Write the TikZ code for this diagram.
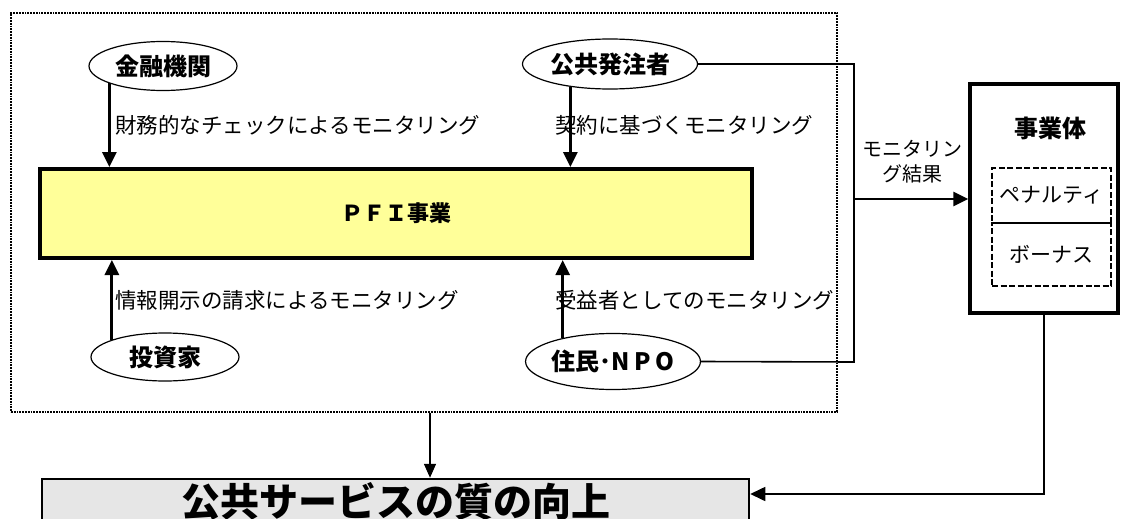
\documentclass[tikz,border=0pt]{standalone}
\usepackage{fontspec}
\newfontfamily\jp{Noto Sans CJK JP}
\usetikzlibrary{shapes.geometric,arrows.meta,calc}
\definecolor{pfiyellow}{HTML}{FFFF99}
\definecolor{botgray}{HTML}{E6E6E6}
\tikzset{
  actor/.style={draw,ellipse,line width=1.2pt,inner sep=0pt,font=\jp\bfseries\fontsize{24}{28}\selectfont},
  lbl/.style={anchor=west,inner sep=0pt,font=\jp\fontsize{21.5}{25}\selectfont},
  arr/.style={line width=2.8pt,-{Triangle[length=15pt,width=14pt]}},
  arrthin/.style={line width=1.5pt,-{Triangle[length=14pt,width=12pt]}},
  conn/.style={line width=1.6pt},
  inbox/.style={draw,dashed,line width=2.4pt,dash pattern=on 6pt off 2.5pt,inner sep=0pt,minimum width=119pt,font=\jp\fontsize{21}{25}\selectfont}
}
\begin{document}
\begin{tikzpicture}[x=1pt,y=-1pt]
\clip (0,0) rectangle (1122,519);
\fill[white] (0,0) rectangle (1122,519);
% outer dotted frame
\node[draw,densely dotted,line width=1.8pt,minimum width=826pt,minimum height=399pt,inner sep=0pt] (outer) at (424,212.5) {};
% PFI box
\node[draw,line width=4pt,fill=pfiyellow,minimum width=712pt,minimum height=89pt,inner sep=0pt,font=\jp\bfseries\fontsize{22}{26}\selectfont] (pfi) at (396,213.5) {ＰＦＩ事業};
% actors
\node[actor,minimum width=148pt,minimum height=49pt] (kin) at (163,66) {金融機関};
\node[actor,minimum width=175pt,minimum height=50pt] (ko) at (610,64) {公共発注者};
\node[actor,minimum width=148pt,minimum height=48pt] (tou) at (165,357) {投資家};
\node[actor,minimum width=173pt,minimum height=56pt] (ju) at (613,361.5) {住民･N\hspace{5pt}P\hspace{5pt}O};
% arrows to/from PFI
\draw[arr] (kin.-162) -- (kin.-162 |- pfi.north);
\draw[arr] (ko.-150) -- (ko.-150 |- pfi.north);
\draw[arr] (tou.162) -- (tou.162 |- pfi.south);
\draw[arr] (ju.155) -- (ju.155 |- pfi.south);
% labels
\node[lbl] (l1) at (115,125) {財務的なチェックによるモニタリング};
\node[lbl] (l2) at (555,125) {契約に基づくモニタリング};
\node[lbl] (l3) at (115,300) {情報開示の請求によるモニタリング};
\node[lbl] (l4) at (555,300) {受益者としてのモニタリング};
% right entity
\node[draw,line width=3.5pt,minimum width=148pt,minimum height=229pt,inner sep=0pt] (jig) at (1044,198.5) {};
\node[font=\jp\bfseries\fontsize{24}{28}\selectfont,inner sep=0pt] (jigt) at (1050,128) {事業体};
\node[inbox,minimum height=55pt] (pen) at (1051.5,195.5) {ペナルティ};
\node[inbox,minimum height=63pt] (bon) at (1051.5,254.5) {ボーナス};
% monitoring result connector
\coordinate (vt) at (854,67);
\coordinate (vb) at (854,362);
\draw[conn] (ko.east) -- (ko.east -| vt) -- (vb) -- (ju.east);
\coordinate (va) at (854,199);
\draw[arr] (va) -- (va -| jig.west);
\node[align=center,font=\jp\fontsize{20}{25}\selectfont,inner sep=0pt] (mres) at (912,162) {モニタリン\\グ結果};
% bottom box
\node[draw,line width=2.5pt,fill=botgray,minimum width=707pt,minimum height=44pt,inner sep=0pt,font=\jp\bfseries\fontsize{39}{44}\selectfont] (bot) at (395.5,501) {公共サービスの質の向上};
\coordinate (os) at ($(outer.south)+(6,0)$);
\coordinate (be) at ($(bot.east)+(0,-7)$);
\draw[arrthin] (os) -- (os |- bot.north);
\draw[conn,-{Triangle[length=15pt,width=14pt]}] (jig.south) |- (be);
\end{tikzpicture}
\end{document}
